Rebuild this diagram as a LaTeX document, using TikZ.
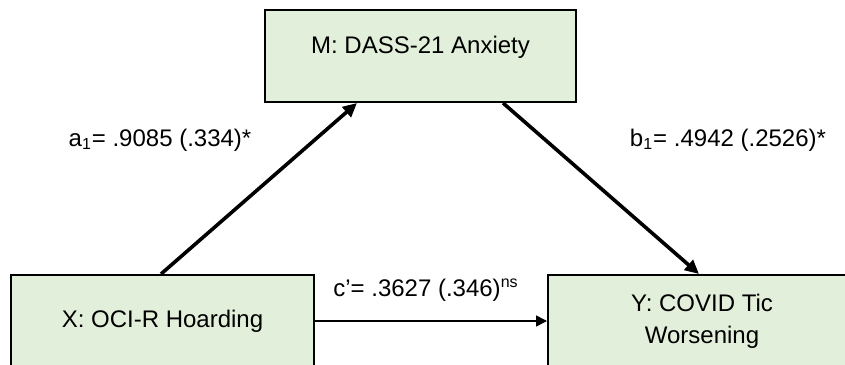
\documentclass[tikz,border=0pt]{standalone}
\usepackage{fontspec}
\setmainfont{Liberation Sans}
\usetikzlibrary{arrows.meta,calc}
\definecolor{boxgreen}{HTML}{E2EFDA}
\begin{document}
\begin{tikzpicture}[x=0.5pt,y=-0.5pt,
  varbox/.style={draw=black,fill=boxgreen,line width=1pt,rectangle,inner sep=0pt,
    minimum width=#1*0.5pt,minimum height=46pt,align=center,font=\fontsize{12pt}{16pt}\selectfont},
  patharrow/.style={line width=1.8pt,-{Triangle[length=7pt,width=6.5pt]}},
  directarrow/.style={line width=0.8pt,-{Triangle[length=5.5pt,width=5.5pt]}},
  coef/.style={font=\fontsize{12pt}{14pt}\selectfont,inner sep=0pt}]
\useasboundingbox (0,0) rectangle (845,364);
\clip (0,0) rectangle (845,364);
\node[varbox=311] (M) at (420.5,56) {};
\node[font=\fontsize{12pt}{14pt}\selectfont,inner sep=0pt] (Mt) at (420.5,47) {M: DASS-21 Anxiety};
\node[varbox=303] (X) at (162.5,321) {X: OCI-R Hoarding};
\node[varbox=308] (Y) at (702,321) {Y: COVID Tic\\Worsening};
\coordinate (a0) at ($(X.north west)+(151,0)$);
\coordinate (a1) at ($(M.south west)+(93,0)$);
\coordinate (b0) at ($(M.south west)+(239,0)$);
\coordinate (b1) at ($(Y.north west)+(152,0)$);
\draw[patharrow] (a0) -- (a1);
\draw[patharrow] (b0) -- (b1);
\draw[directarrow] (X.east) -- (Y.west);
\node[coef] (la) at (160,140) {a\textsubscript{1}= .9085 (.334)*};
\node[coef] (lb) at (728,140) {b\textsubscript{1}= .4942 (.2526)*};
\node[coef] (lc) at (426,290) {c’= .3627 (.346)\textsuperscript{ns}};
\end{tikzpicture}
\end{document}
